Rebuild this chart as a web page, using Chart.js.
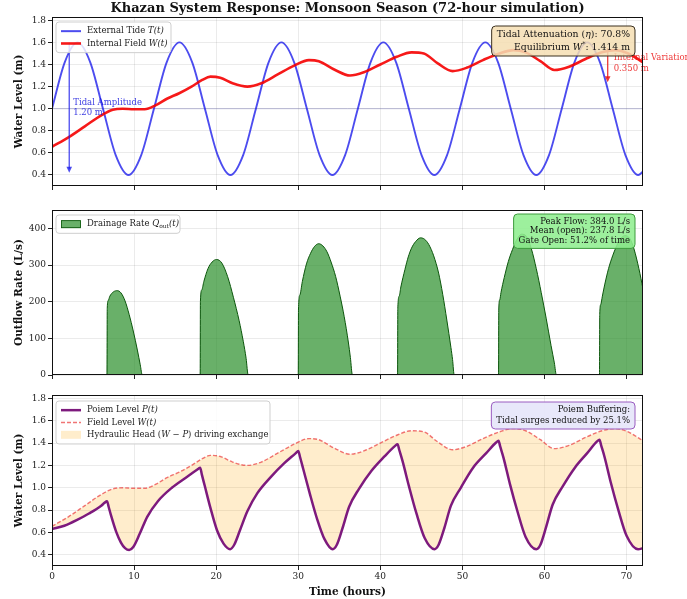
<!DOCTYPE html>
<html>
<head>
<meta charset="utf-8">
<style>
  body { margin: 0; background: #fff; }
  #wrap { position: relative; width: 687px; height: 599px; overflow: hidden; background: #fff; }
  canvas { position: absolute; left: 0; }
</style>
</head>
<body>
<div id="wrap">
  <canvas id="tideChart" width="687" height="197" style="top:0px"></canvas>
  <canvas id="flowChart" width="687" height="188" style="top:197px"></canvas>
  <canvas id="poiemChart" width="687" height="214" style="top:385px"></canvas>
</div>
<script src="https://cdn.jsdelivr.net/npm/chart.js"></script>
<script>
  // tick labels
  const timeTicks = [0, 10, 20, 30, 40, 50, 60, 70];
  const levelTicks = [0.4, 0.6, 0.8, 1.0, 1.2, 1.4, 1.6, 1.8];
  const flowTicks = [0, 100, 200, 300, 400];

  // external tide T(t)
  const tideT = [0, 1.55, 3.11, 4.66, 6.21, 7.76, 9.32, 10.87, 12.42, 13.97, 15.53, 17.08,
    18.63, 20.18, 21.74, 23.29, 24.84, 26.39, 27.95, 29.5, 31.05, 32.6, 34.16, 35.71,
    37.26, 38.81, 40.37, 41.92, 43.47, 45.02, 46.58, 48.13, 49.68, 51.23, 52.79, 54.34,
    55.89, 57.44, 59.0, 60.55, 62.1, 63.65, 65.21, 66.76, 68.31, 69.86, 71.42, 72];
  const tideLevel = [1.0, 1.42, 1.6, 1.42, 1.0, 0.58, 0.4, 0.58, 1.0, 1.42, 1.6, 1.42,
    1.0, 0.58, 0.4, 0.58, 1.0, 1.42, 1.6, 1.42, 1.0, 0.58, 0.4, 0.58,
    1.0, 1.42, 1.6, 1.42, 1.0, 0.58, 0.4, 0.58, 1.0, 1.42, 1.6, 1.42,
    1.0, 0.58, 0.4, 0.58, 1.0, 1.42, 1.6, 1.42, 1.0, 0.58, 0.4, 0.43];

  // internal field W(t)
  const fieldT = [0, 2, 4, 6, 7.4, 8.6, 10, 11.3, 12.6, 14, 15.5, 17, 18.3, 19.3, 20.5, 22,
    23.8, 25.5, 27.5, 29.5, 31.3, 32.5, 34.5, 36.3, 38, 40, 42, 43.8, 45.3, 47, 48.8,
    50.5, 52.5, 54.5, 56.2, 57.7, 59.5, 61.2, 63, 65, 67, 68.6, 70.2, 72];
  const fieldLevel = [0.655, 0.74, 0.84, 0.94, 0.99, 1.0, 0.995, 0.995, 1.03, 1.09, 1.14, 1.2,
    1.26, 1.29, 1.28, 1.23, 1.2, 1.23, 1.31, 1.39, 1.44, 1.43, 1.35, 1.3, 1.33, 1.4, 1.47,
    1.51, 1.5, 1.41, 1.34, 1.37, 1.44, 1.5, 1.53, 1.51, 1.43, 1.35, 1.38, 1.45, 1.51, 1.53,
    1.5, 1.42];

  // poiem level P(t)
  const poiemT = [0, 1.5, 3, 4.5, 6, 6.4, 6.7,
    6.9, 7.2, 7.8, 8.4, 8.9, 9.4,
    9.9, 10.7, 11.6, 12.9, 14.6, 16.3, 17.75, 18.05,
    18.25, 18.6, 19.3, 20.1, 20.9, 21.7,
    22.2, 22.9, 23.8, 25.0, 26.7, 28.3, 29.7, 30.0,
    30.2, 30.6, 31.4, 32.3, 33.2, 34.2,
    34.7, 35.4, 36.2, 37.4, 38.9, 40.5, 41.8, 42.1,
    42.3, 42.7, 43.5, 44.4, 45.4, 46.6,
    47.1, 47.8, 48.6, 49.8, 51.3, 52.9, 54.1, 54.4,
    54.6, 55.0, 55.8, 56.7, 57.7, 59.0,
    59.5, 60.2, 61.0, 62.2, 63.7, 65.2, 66.4, 66.7,
    66.9, 67.3, 68.1, 69.0, 70.0, 71.4, 72];
  const poiemLevel = [0.63, 0.66, 0.71, 0.77, 0.84, 0.865, 0.88,
    0.83, 0.75, 0.61, 0.51, 0.46, 0.443,
    0.47, 0.59, 0.74, 0.88, 1.0, 1.09, 1.165, 1.18,
    1.12, 1.02, 0.82, 0.62, 0.5, 0.45,
    0.49, 0.62, 0.79, 0.95, 1.1, 1.22, 1.31, 1.33,
    1.28, 1.17, 0.95, 0.72, 0.54, 0.45,
    0.49, 0.64, 0.83, 0.99, 1.15, 1.28, 1.375, 1.39,
    1.34, 1.24, 1.01, 0.77, 0.55, 0.45,
    0.49, 0.64, 0.84, 1.0, 1.18, 1.31, 1.405, 1.42,
    1.37, 1.27, 1.03, 0.79, 0.56, 0.45,
    0.49, 0.65, 0.85, 1.01, 1.18, 1.31, 1.415, 1.43,
    1.38, 1.28, 1.04, 0.8, 0.57, 0.45, 0.46];

  // drainage rate Q_out(t), L/s
  const flowT = [0,
    6.7, 6.73, 6.85, 7.05, 7.5, 7.95, 8.4, 8.9, 9.4, 9.9, 10.4, 10.75, 11.0,
    18.05, 18.08, 18.25, 18.5, 19.0, 19.5, 20.05, 20.7, 21.4, 22.1, 22.8, 23.3, 23.65, 23.9,
    30.0, 30.03, 30.2, 30.5, 31.0, 31.5, 32.0, 32.5, 33.0, 33.5, 34.0, 34.55, 35.1, 35.6, 36.1, 36.35, 36.6,
    42.1, 42.13, 42.3, 42.5, 43.0, 43.4, 43.8, 44.3, 44.9, 45.4, 45.9, 46.5, 47.1, 47.6, 48.1, 48.6, 48.8, 49.0,
    54.4, 54.43, 54.55, 54.7, 55.1, 55.6, 56.1, 56.6, 57.2, 57.8, 58.4, 59.0, 59.6, 60.2, 60.8, 61.2, 61.45,
    66.7, 66.73, 66.85, 67.05, 67.35, 67.8, 68.3, 68.65, 69.2, 69.8, 70.4, 70.9, 71.5, 72];
  const flowRate = [0,
    0, 182, 203, 215, 227, 230, 224, 202, 165, 120, 68, 28, 0,
    0, 200, 232, 255, 290, 308, 315, 305, 268, 212, 148, 92, 45, 0,
    0, 180, 218, 255, 303, 332, 351, 358, 352, 336, 308, 269, 215, 159, 90, 48, 0,
    0, 182, 215, 240, 288, 322, 346, 364, 374, 370, 356, 325, 278, 220, 150, 75, 42, 0,
    0, 180, 205, 225, 266, 310, 342, 368, 384, 378, 344, 290, 225, 155, 80, 33, 0,
    0, 165, 192, 215, 248, 290, 325, 345, 370, 380, 372, 344, 290, 235];

  const SERIF = "'DejaVu Serif', 'Liberation Serif', serif";

  function pts(xs, ys) {
    return xs.map((x, i) => ({ x: x, y: ys[i] }));
  }

  function xAxis(height, labels) {
    return {
      type: 'linear', min: 0, max: 72,
      afterBuildTicks: s => { s.ticks = timeTicks.map(v => ({ value: v })); },
      afterFit: s => { s.height = height; },
      ticks: { display: labels, font: { family: SERIF, size: 9 }, color: '#222', padding: 1, maxRotation: 0, autoSkip: false },
      grid: { color: 'rgba(0,0,0,0.08)', tickColor: '#222', tickLength: 4 },
      border: { display: false },
      title: labels
        ? { display: true, text: 'Time (hours)', font: { family: SERIF, size: 10.5, weight: 'bold' }, color: '#111', padding: { top: 4, bottom: 0 } }
        : { display: false }
    };
  }

  function yAxis(min, max, vals, title, digits) {
    return {
      min: min, max: max,
      afterBuildTicks: s => { s.ticks = vals.map(v => ({ value: v })); },
      afterFit: s => { s.width = 52; },
      ticks: { font: { family: SERIF, size: 9 }, color: '#222', padding: 2, callback: v => v.toFixed(digits) },
      grid: { color: 'rgba(0,0,0,0.08)', tickColor: '#222', tickLength: 4 },
      border: { display: false },
      title: { display: true, text: title, font: { family: SERIF, size: 10.5, weight: 'bold' }, color: '#111', padding: { top: 13, bottom: 0 } }
    };
  }

  function base(top, scales) {
    return {
      responsive: false, animation: false, devicePixelRatio: 1, events: [],
      layout: { padding: { left: 0, right: 44, top: top, bottom: 0 } },
      plugins: { legend: { display: false }, tooltip: { enabled: false } },
      scales: scales
    };
  }

  // text made of runs: ['text', style] with style '' | 'i' | 'sub' | 'sup'
  function runFont(st, size) {
    const s = (st === 'sub' || st === 'sup') ? size * 0.7 : size;
    return (st === 'i' ? 'italic ' : '') + s + 'px ' + SERIF;
  }
  function runsWidth(ctx, parts, size) {
    let w = 0;
    parts.forEach(([t, st]) => { ctx.font = runFont(st, size); w += ctx.measureText(t).width; });
    return w;
  }
  function runs(ctx, parts, x, y, size, color, align) {
    const total = runsWidth(ctx, parts, size);
    let cx = align === 'right' ? x - total : x;
    ctx.save();
    ctx.fillStyle = color; ctx.textBaseline = 'middle'; ctx.textAlign = 'left';
    parts.forEach(([t, st]) => {
      ctx.font = runFont(st, size);
      const dy = st === 'sub' ? size * 0.3 : (st === 'sup' ? -size * 0.35 : 0);
      ctx.fillText(t, cx, y + dy);
      cx += ctx.measureText(t).width;
    });
    ctx.restore();
  }

  function roundBox(ctx, x, y, w, h, fill, edge, lw, r) {
    ctx.save();
    ctx.beginPath();
    ctx.roundRect(x, y, w, h, r);
    ctx.fillStyle = fill; ctx.fill();
    ctx.strokeStyle = edge; ctx.lineWidth = lw; ctx.stroke();
    ctx.restore();
  }

  function frame(ctx, a) {
    ctx.save();
    ctx.strokeStyle = '#111'; ctx.lineWidth = 1;
    ctx.strokeRect(Math.round(a.left) + 0.5, Math.round(a.top) + 0.5,
      Math.round(a.right - a.left) - 1, Math.round(a.bottom - a.top) - 1);
    ctx.restore();
  }

  function legend(ctx, x, y, w, rows, size) {
    const rowH = size * 1.45;
    const h = rows.length * rowH + 6;
    roundBox(ctx, x, y, w, h, 'rgba(255,255,255,0.82)', '#cfcfcf', 1, 3);
    rows.forEach((r, i) => {
      const cy = y + 3 + rowH * (i + 0.5);
      const sx = x + 5, ex = x + 25;
      ctx.save();
      if (r.fill) {
        ctx.fillStyle = r.fill; ctx.fillRect(sx, cy - 4, 20, 8);
        if (r.edge) { ctx.strokeStyle = r.edge; ctx.lineWidth = 0.8; ctx.strokeRect(sx + 0.5, cy - 3.5, 19, 7); }
      } else {
        ctx.strokeStyle = r.color; ctx.lineWidth = r.width; ctx.setLineDash(r.dash || []);
        ctx.beginPath(); ctx.moveTo(sx, cy); ctx.lineTo(ex, cy); ctx.stroke();
      }
      ctx.restore();
      runs(ctx, r.text, ex + 6, cy, size, '#222', 'left');
    });
  }

  function infoBox(ctx, right, top, lines, size, gap, fill, edge) {
    let w = 0;
    lines.forEach(l => { w = Math.max(w, runsWidth(ctx, l, size)); });
    const h = lines.length * gap + 5;
    roundBox(ctx, right - w - 10, top, w + 10, h, fill, edge, 1, 4);
    lines.forEach((l, i) => runs(ctx, l, right - 5, top + 2.5 + gap * (i + 0.5), size, '#111', 'right'));
  }

  function arrow(ctx, x, y1, y2, color) {
    const dir = Math.sign(y2 - y1);
    ctx.save();
    ctx.strokeStyle = color; ctx.fillStyle = color; ctx.lineWidth = 1.3;
    ctx.beginPath(); ctx.moveTo(x, y1); ctx.lineTo(x, y2 - dir * 4); ctx.stroke();
    ctx.beginPath(); ctx.moveTo(x - 2.8, y2 - dir * 6); ctx.lineTo(x, y2); ctx.lineTo(x + 2.8, y2 - dir * 6);
    ctx.closePath(); ctx.fill();
    ctx.restore();
  }

  const TIDE_BLUE = 'rgba(25,25,235,0.78)';
  const FIELD_RED = 'rgba(245,0,0,0.9)';

  // ---------- top panel ----------
  const tideDecor = {
    id: 'tideDecor',
    beforeDatasetsDraw(chart) {
      const { ctx, chartArea: a, scales: { y } } = chart;
      const yy = y.getPixelForValue(1.0);
      ctx.save();
      ctx.strokeStyle = 'rgba(110,110,175,0.45)'; ctx.lineWidth = 1;
      ctx.beginPath(); ctx.moveTo(a.left, yy); ctx.lineTo(a.right, yy); ctx.stroke();
      ctx.restore();
    },
    afterDraw(chart) {
      const { ctx, chartArea: a, scales: { x, y } } = chart;
      ctx.save();
      ctx.font = 'bold 13px ' + SERIF; ctx.fillStyle = '#111';
      ctx.textAlign = 'center'; ctx.textBaseline = 'middle';
      ctx.fillText('Khazan System Response: Monsoon Season (72-hour simulation)', (a.left + a.right) / 2, 9);
      ctx.restore();

      const ax = x.getPixelForValue(2.1);
      arrow(ctx, ax, y.getPixelForValue(1.6), y.getPixelForValue(0.42), TIDE_BLUE);
      runs(ctx, [['Tidal Amplitude', '']], ax + 4, y.getPixelForValue(1.0) - 6, 8.5, 'rgba(20,20,220,0.85)', 'left');
      runs(ctx, [['1.20 m', '']], ax + 4, y.getPixelForValue(1.0) + 4.5, 8.5, 'rgba(20,20,220,0.85)', 'left');

      const rx = x.getPixelForValue(67.7);
      arrow(ctx, rx, y.getPixelForValue(1.55), y.getPixelForValue(1.24), 'rgba(235,20,20,0.85)');
      runs(ctx, [['Internal Variation', '']], rx + 6, 58, 8.5, 'rgba(235,20,20,0.85)', 'left');
      runs(ctx, [['0.350 m', '']], rx + 6, 69, 8.5, 'rgba(235,20,20,0.85)', 'left');

      frame(ctx, a);
      legend(ctx, a.left + 4, a.top + 5, 115, [
        { color: TIDE_BLUE, width: 2, text: [['External Tide ', ''], ['T(t)', 'i']] },
        { color: FIELD_RED, width: 2.6, text: [['Internal Field ', ''], ['W(t)', 'i']] }
      ], 8.5);
      infoBox(ctx, a.right - 8, a.top + 9, [
        [['Tidal Attenuation (', ''], ['η', 'i'], ['): 70.8%', '']],
        [['Equilibrium ', ''], ['W', 'i'], ['*', 'sup'], [': 1.414 m', '']]
      ], 9.3, 12.5, 'rgba(245,222,179,0.85)', '#3a3020');
    }
  };

  new Chart(document.getElementById('tideChart'), {
    type: 'line',
    data: {
      datasets: [
        { label: 'Internal Field W(t)', data: pts(fieldT, fieldLevel), borderColor: FIELD_RED, borderWidth: 2.6,
          pointRadius: 0, cubicInterpolationMode: 'monotone', fill: false },
        { label: 'External Tide T(t)', data: pts(tideT, tideLevel), borderColor: TIDE_BLUE, borderWidth: 1.9,
          pointRadius: 0, cubicInterpolationMode: 'monotone', fill: false }
      ]
    },
    options: base(17, { x: xAxis(11, false), y: yAxis(0.3, 1.83, levelTicks, 'Water Level (m)', 1) }),
    plugins: [tideDecor]
  });

  // ---------- middle panel ----------
  const FLOW_FILL = 'rgba(34,139,34,0.68)';
  const FLOW_EDGE = '#0b550b';
  const flowDecor = {
    id: 'flowDecor',
    afterDraw(chart) {
      const { ctx, chartArea: a } = chart;
      frame(ctx, a);
      legend(ctx, a.left + 4, a.top + 5, 124, [
        { fill: FLOW_FILL, edge: FLOW_EDGE, text: [['Drainage Rate ', ''], ['Q', 'i'], ['out', 'sub'], ['(t)', 'i']] }
      ], 8.5);
      infoBox(ctx, a.right - 8, a.top + 4, [
        [['Peak Flow: 384.0 L/s', '']],
        [['Mean (open): 237.8 L/s', '']],
        [['Gate Open: 51.2% of time', '']]
      ], 8.5, 9.8, 'rgba(144,238,144,0.88)', '#3c9a3c');
    }
  };

  new Chart(document.getElementById('flowChart'), {
    type: 'line',
    data: {
      datasets: [
        { label: 'Drainage Rate', data: pts(flowT, flowRate), borderColor: FLOW_EDGE, borderWidth: 1,
          backgroundColor: FLOW_FILL, fill: 'origin', pointRadius: 0, cubicInterpolationMode: 'monotone' }
      ]
    },
    options: base(13, { x: xAxis(10, false), y: yAxis(0, 450, flowTicks, 'Outflow Rate (L/s)', 0) }),
    plugins: [flowDecor]
  });

  // ---------- bottom panel ----------
  const POIEM = '#7d1a7d';
  const FIELD_DASH = 'rgba(235,70,70,0.75)';
  const HEAD_FILL = 'rgba(255,165,0,0.2)';
  const poiemDecor = {
    id: 'poiemDecor',
    afterDraw(chart) {
      const { ctx, chartArea: a } = chart;
      frame(ctx, a);
      legend(ctx, a.left + 4, a.top + 6, 214, [
        { color: POIEM, width: 2.5, text: [['Poiem Level ', ''], ['P(t)', 'i']] },
        { color: FIELD_DASH, width: 1.4, dash: [4, 2], text: [['Field Level ', ''], ['W(t)', 'i']] },
        { fill: HEAD_FILL, text: [['Hydraulic Head (', ''], ['W', 'i'], [' − ', ''], ['P', 'i'], [') driving exchange', '']] }
      ], 8.5);
      infoBox(ctx, a.right - 8, a.top + 7, [
        [['Poiem Buffering:', '']],
        [['Tidal surges reduced by 25.1%', '']]
      ], 8.5, 11, 'rgba(230,230,250,0.92)', '#9a5cc0');
    }
  };

  new Chart(document.getElementById('poiemChart'), {
    type: 'line',
    data: {
      datasets: [
        { label: 'Poiem Level P(t)', data: pts(poiemT, poiemLevel), borderColor: POIEM, borderWidth: 2.5,
          pointRadius: 0, cubicInterpolationMode: 'monotone', fill: false },
        { label: 'Field Level W(t)', data: pts(fieldT, fieldLevel), borderColor: FIELD_DASH, borderWidth: 1.4,
          borderDash: [4, 2], pointRadius: 0, cubicInterpolationMode: 'monotone',
          fill: { target: 0, above: HEAD_FILL, below: HEAD_FILL } }
      ]
    },
    options: base(10, { x: xAxis(33, true), y: yAxis(0.3, 1.83, levelTicks, 'Water Level (m)', 1) }),
    plugins: [poiemDecor]
  });
</script>
</body>
</html>
